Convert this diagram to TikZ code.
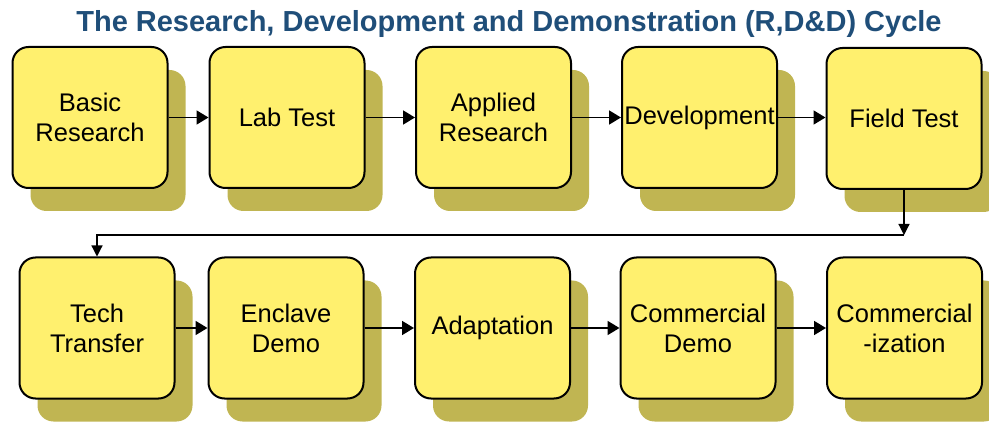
\documentclass[tikz,border=0pt]{standalone}
\usepackage{fontspec}
\setmainfont{Liberation Sans}
\usetikzlibrary{arrows.meta,shadows,positioning}

\definecolor{boxfill}{RGB}{255,240,110}
\definecolor{boxshade}{RGB}{192,181,82}
\definecolor{titleblue}{RGB}{31,78,121}

\tikzset{
  stage/.style={
    draw=black, line width=2pt, fill=boxfill,
    rounded corners=16pt,
    minimum width=155pt, minimum height=141pt, inner sep=0pt,
    align=center, font=\fontsize{25.5}{30}\selectfont,
    drop shadow={shadow xshift=18pt, shadow yshift=-23pt,
                 fill=boxshade, opacity=1}
  },
  flow/.style={line width=1.8pt, -{Triangle[length=12pt,width=14pt]}},
  returnarrow/.style={line width=1.2pt, -{Triangle[length=11pt,width=11pt]}}
}

\begin{document}
\begin{tikzpicture}[x=1pt,y=-1pt]
  \useasboundingbox (0,0) rectangle (989,422);
  \clip (0,0) rectangle (989,422);

  % title
  \node[anchor=base, text=titleblue,
        font=\bfseries\fontsize{29}{32}\selectfont] (title) at (509,32)
        {The Research, Development and Demonstration (R,D\&D) Cycle};

  % first row
  \node[stage] (basic) at (90,117.5)    {Basic\\Research};
  \node[stage] (lab)   at (287,117.5)   {Lab Test};
  \node[stage] (appl)  at (493.5,117.5) {Applied\\Research};
  \node[stage] (dev)   at (699.5,117.5) {Development};
  \node[stage] (field) at (904,118.5)   {Field Test};

  % second row
  \node[stage] (tech)  at (97,328)    {Tech\\Transfer};
  \node[stage] (encl)  at (286,328)   {Enclave\\Demo};
  \node[stage] (adapt) at (492.5,328) {Adaptation};
  \node[stage] (cdemo) at (698,328)   {Commercial\\Demo};
  \node[stage] (comm)  at (904.5,328) {Commercial\\-ization};

  % connectors along the first row
  \draw[flow] (basic.east) -- (lab.west);
  \draw[flow] (lab.east)   -- (appl.west);
  \draw[flow] (appl.east)  -- (dev.west);
  \draw[flow] (dev.east)   -- (field.west |- dev.east);

  % return path from the end of the first row to the start of the second
  \coordinate (turn) at (field.south |- 0,235);
  \draw[returnarrow] (field.south) -- (turn);
  \draw[returnarrow] (turn) -| (tech.north);

  % connectors along the second row
  \draw[flow] (tech.east)  -- (encl.west);
  \draw[flow] (encl.east)  -- (adapt.west);
  \draw[flow] (adapt.east) -- (cdemo.west);
  \draw[flow] (cdemo.east) -- (comm.west);
\end{tikzpicture}
\end{document}
